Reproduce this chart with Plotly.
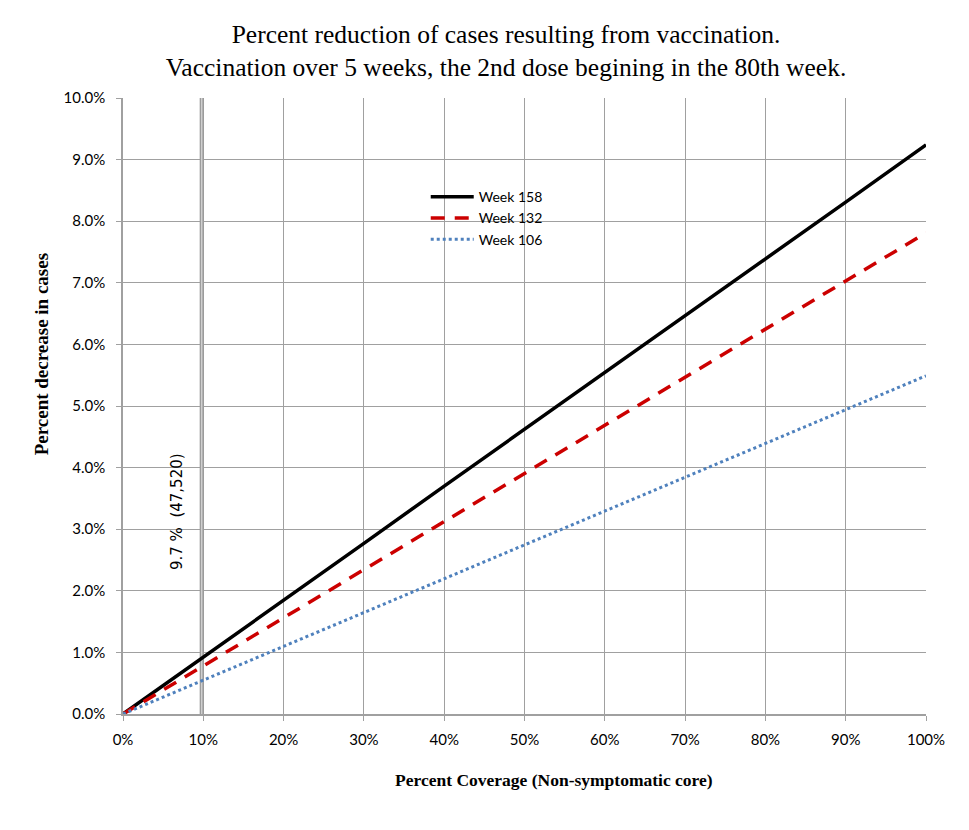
import plotly.graph_objects as go

coverage = [0, 10, 20, 30, 40, 50, 60, 70, 80, 90, 100]
week158 = [0, 0.92, 1.85, 2.77, 3.70, 4.62, 5.54, 6.47, 7.39, 8.31, 9.24]
week132 = [0, 0.78, 1.56, 2.34, 3.12, 3.91, 4.69, 5.47, 6.25, 7.03, 7.81]
week106 = [0, 0.55, 1.10, 1.65, 2.20, 2.75, 3.30, 3.85, 4.40, 4.95, 5.49]
marker_x = 9.8
marker_label = "9.7&nbsp;%&nbsp;&nbsp;(47,520)"
x_ticks = [0, 10, 20, 30, 40, 50, 60, 70, 80, 90, 100]
y_ticks = [0, 1, 2, 3, 4, 5, 6, 7, 8, 9, 10]

TICK_FONT = dict(family="Lato, sans-serif", size=15, color="#000")
SERIF = "Liberation Serif, Times New Roman, serif"

fig = go.Figure()

# vertical marker line
fig.add_trace(go.Scatter(x=[marker_x, marker_x], y=[0, 10], mode="lines",
                         line=dict(color="#9a9a9a", width=4), showlegend=False, hoverinfo="skip"))
fig.add_trace(go.Scatter(x=[marker_x, marker_x], y=[0, 10], mode="lines",
                         line=dict(color="#cfcfcf", width=1.5), showlegend=False, hoverinfo="skip"))

fig.add_trace(go.Scatter(x=coverage, y=week158, mode="lines", name="Week 158",
                         line=dict(color="#000000", width=3.5)))
fig.add_trace(go.Scatter(x=coverage, y=week132, mode="lines", name="Week 132",
                         line=dict(color="#cc0000", width=3.5, dash="14px,10px")))
fig.add_trace(go.Scatter(x=coverage, y=week106, mode="lines", name="Week 106",
                         line=dict(color="#4f81bd", width=3, dash="dot")))

fig.add_annotation(x=marker_x, y=3.29, xref="x", yref="y", text=marker_label,
                   showarrow=False, textangle=-90, xshift=-24,
                   font=dict(family="DejaVu Sans, sans-serif", size=15, color="#000"))

# axis titles
fig.add_annotation(x=0.537, y=-0.107, xref="paper", yref="paper", xanchor="center", yanchor="middle",
                   text="<b>Percent Coverage (Non-symptomatic core)</b>", showarrow=False,
                   font=dict(family=SERIF, size=17.5, color="#000"))
fig.add_annotation(x=-0.102, y=0.584, xref="paper", yref="paper", xanchor="center", yanchor="middle",
                   text="<b>Percent decrease in cases</b>", showarrow=False, textangle=-90,
                   font=dict(family=SERIF, size=19, color="#000"))

fig.update_layout(
    width=953, height=814,
    paper_bgcolor="white", plot_bgcolor="white",
    margin=dict(l=115, r=35, t=90, b=108),
    title=dict(text="Percent reduction of cases resulting from vaccination.<br>Vaccination over 5 weeks, the 2nd dose begining in the 80th week.",
               x=0.5226, xanchor="center", y=0.957, yanchor="top",
               font=dict(family=SERIF, size=25.5, color="#000")),
    legend=dict(x=0.377, y=0.865, xanchor="left", yanchor="top", bgcolor="rgba(0,0,0,0)",
                itemwidth=43,
                font=dict(family="Lato, sans-serif", size=14, color="#000"), tracegroupgap=0),
    xaxis=dict(range=[0, 100], tickvals=x_ticks, ticktext=[f"{v}%" for v in x_ticks],
               showgrid=True, gridcolor="#a0a0a0", gridwidth=1,
               showline=True, linecolor="#a0a0a0", linewidth=1.5, mirror=False,
               ticks="outside", ticklen=5, tickcolor="#a0a0a0", zeroline=False,
               ticklabelstandoff=6,
               tickfont=TICK_FONT),
    yaxis=dict(range=[0, 10], tickvals=y_ticks, ticktext=[f"{v:.1f}%" for v in y_ticks],
               showgrid=True, gridcolor="#a0a0a0", gridwidth=1,
               showline=True, linecolor="#a0a0a0", linewidth=1.5,
               ticks="outside", ticklen=5, tickcolor="#a0a0a0", zeroline=False,
               ticklabelstandoff=8,
               tickfont=TICK_FONT),
)

fig.write_html("out.html")
